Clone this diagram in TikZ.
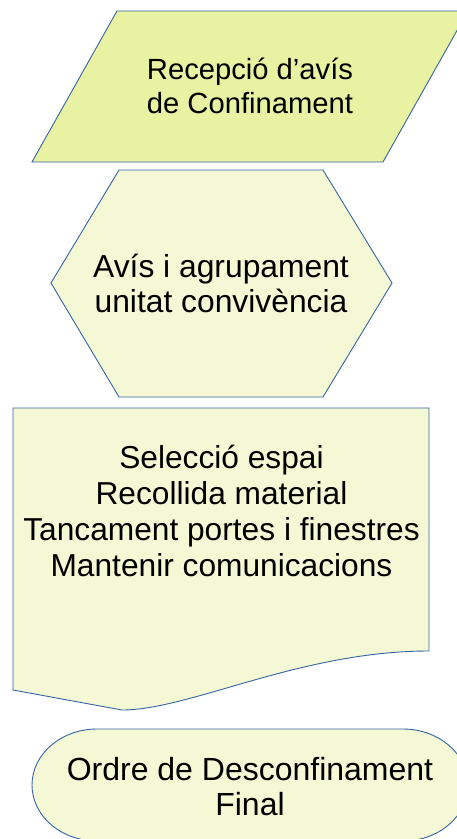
\documentclass[tikz,border=0pt]{standalone}
\usepackage{fontspec}
\setmainfont{Liberation Sans}
\definecolor{lineblue}{HTML}{3465A4}
\definecolor{fillA}{HTML}{E8F2A2}
\definecolor{fillB}{HTML}{F5F8D4}
\tikzset{
  shapeline/.style={draw=lineblue, line width=0.9pt, line join=miter},
  label/.style={align=center, inner sep=0pt, text=black, anchor=base},
}
\begin{document}
\begin{tikzpicture}[x=1pt, y=-1pt]
\useasboundingbox (0,0) rectangle (457,839);
\fill[white] (0,0) rectangle (457,839);
\clip (0,0) rectangle (457,839);
% input parallelogram
\path[shapeline, fill=fillA] (117,11) -- (468,11) -- (383,162) -- (32,162) -- cycle;
\node[label, font=\fontsize{29.2}{34}\selectfont] (recepcio) at (250,113) {Recepció d’avís\\de Confinament};
% hexagon
\path[shapeline, fill=fillB] (119,170) -- (323,170) -- (392,283) -- (323,397) -- (119,397) -- (51,283) -- cycle;
\node[label, font=\fontsize{31.8}{35}\selectfont] (avis) at (221,312) {Avís i agrupament\\unitat convivència};
% document
\path[shapeline, fill=fillB] (13,408) -- (429,408) -- (429,651)
  .. controls (300,651) and (190,710) .. (122,710) -- (13,690) -- cycle;
\node[label, font=\fontsize{31.7}{36.1}\selectfont] (accions) at (221.5,576.7) {Selecció espai\\Recollida material\\Tancament portes i finestres\\Mantenir comunicacions};
% terminator
\path[shapeline, fill=fillB] (97,729) -- (403,729) arc[start angle=-90, end angle=90, x radius=65, y radius=56]
  -- (97,841) arc[start angle=90, end angle=270, x radius=65, y radius=56] -- cycle;
\node[label, font=\fontsize{32}{35}\selectfont] (ordre) at (250,815) {Ordre de Desconfinament\\Final};
\end{tikzpicture}
\end{document}
